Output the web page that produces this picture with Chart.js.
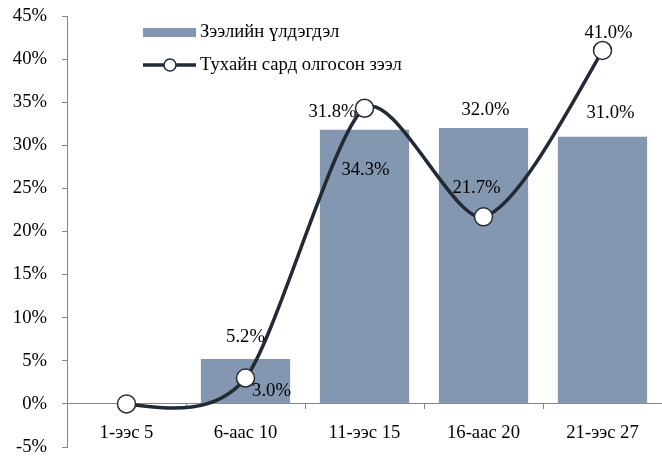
<!DOCTYPE html>
<html>
<head>
<meta charset="utf-8">
<script src="https://cdn.jsdelivr.net/npm/chart.js@4/dist/chart.umd.min.js"></script>
<style>
html,body{margin:0;padding:0;background:#fff;}
#wrap{width:662px;height:457px;position:relative;}
</style>
</head>
<body>
<div id="wrap"><canvas id="c" width="662" height="457"></canvas></div>
<script>
const categories = ["1-ээс 5", "6-аас 10", "11-ээс 15", "16-аас 20", "21-ээс 27"];
const balanceValues = [null, 5.2, 31.8, 32.0, 31.0];
const monthLoanValues = [0.0, 3.0, 34.3, 21.7, 41.0];
const seriesNames = ["Зээлийн үлдэгдэл", "Тухайн сард олгосон зээл"];
const yTicks = [-5, 0, 5, 10, 15, 20, 25, 30, 35, 40, 45];

const FONT = '"Liberation Serif", "Times New Roman", serif';
const FONT_SIZE = 18.67;
const BAR_COLOR = '#8497b0';
const LINE_COLOR = '#222a35';
const AXIS_COLOR = '#868686';

// label placement offsets (px) relative to each mark
const barLabelOffsets = [null, [0, -22], [-32, -18], [2, -18], [8, -24]];
const lineLabelOffsets = [null, [26, 13], [1, 62], [-7, -29], [6, -17]];

// Excel-like smoothing of the line: Bezier control points from neighbouring points
const smoothPlugin = {
  id: 'excelSmooth',
  beforeDatasetsDraw(chart) {
    const meta = chart.getDatasetMeta(0);
    const pts = meta.data;
    const n = pts.length;
    const k = 1 / 8;
    for (let i = 1; i < n - 1; i++) {
      const dx = pts[i + 1].x - pts[i - 1].x;
      const dy = pts[i + 1].y - pts[i - 1].y;
      pts[i].cp1x = pts[i].x - dx * k; pts[i].cp1y = pts[i].y - dy * k;
      pts[i].cp2x = pts[i].x + dx * k; pts[i].cp2y = pts[i].y + dy * k;
    }
    const a = pts[0], b = pts[1];
    a.cp2x = a.x + (b.cp1x - a.x) / 2; a.cp2y = a.y + (b.cp1y - a.y) / 2;
    a.cp1x = a.x; a.cp1y = a.y;
    const z = pts[n - 1], y = pts[n - 2];
    z.cp1x = z.x + (y.cp2x - z.x) / 2; z.cp1y = z.y + (y.cp2y - z.y) / 2;
    z.cp2x = z.x; z.cp2y = z.y;
    meta.dataset._pointsUpdated = true;
    delete meta.dataset._path;
  }
};

const labelsPlugin = {
  id: 'valueLabels',
  afterDatasetsDraw(chart) {
    const ctx = chart.ctx;
    ctx.save();
    ctx.font = FONT_SIZE + 'px ' + FONT;
    ctx.fillStyle = '#000';
    ctx.textAlign = 'center';
    ctx.textBaseline = 'middle';
    const barMeta = chart.getDatasetMeta(1);
    barMeta.data.forEach((el, i) => {
      const v = balanceValues[i];
      if (v === null || !barLabelOffsets[i]) return;
      ctx.fillText(v.toFixed(1) + '%', el.x + barLabelOffsets[i][0], el.y + barLabelOffsets[i][1]);
    });
    const lineMeta = chart.getDatasetMeta(0);
    lineMeta.data.forEach((el, i) => {
      const v = monthLoanValues[i];
      if (!lineLabelOffsets[i]) return;
      ctx.fillText(v.toFixed(1) + '%', el.x + lineLabelOffsets[i][0], el.y + lineLabelOffsets[i][1]);
    });
    ctx.restore();
  },
  afterDraw(chart) {
    const ctx = chart.ctx;
    ctx.save();
    ctx.fillStyle = BAR_COLOR;
    ctx.fillRect(143, 28, 53, 9);
    ctx.strokeStyle = LINE_COLOR;
    ctx.lineWidth = 3.5;
    ctx.beginPath();
    ctx.moveTo(143, 65);
    ctx.lineTo(196, 65);
    ctx.stroke();
    ctx.beginPath();
    ctx.arc(170, 65, 6, 0, Math.PI * 2);
    ctx.fillStyle = '#fff';
    ctx.fill();
    ctx.lineWidth = 1.5;
    ctx.stroke();
    ctx.font = FONT_SIZE + 'px ' + FONT;
    ctx.fillStyle = '#000';
    ctx.textAlign = 'left';
    ctx.textBaseline = 'middle';
    ctx.fillText(seriesNames[0], 200, 32);
    ctx.fillText(seriesNames[1], 200, 65);
    ctx.restore();
  }
};

new Chart(document.getElementById('c'), {
  data: {
    labels: categories,
    datasets: [
      {
        type: 'line',
        label: seriesNames[1],
        data: monthLoanValues,
        borderColor: LINE_COLOR,
        borderWidth: 3.5,
        tension: 0.4,
        pointRadius: 9,
        pointBackgroundColor: '#fff',
        pointBorderColor: LINE_COLOR,
        pointBorderWidth: 1.5,
        order: 0
      },
      {
        type: 'bar',
        label: seriesNames[0],
        data: balanceValues,
        backgroundColor: BAR_COLOR,
        categoryPercentage: 1.0,
        barPercentage: 0.75,
        order: 1
      }
    ]
  },
  options: {
    responsive: false,
    animation: false,
    layout: { autoPadding: false, padding: { top: 16, bottom: 10, right: -2, left: 0 } },
    plugins: { legend: { display: false }, tooltip: { enabled: false } },
    scales: {
      x: {
        type: 'category',
        position: { y: 0 },
        afterFit(scale) { scale.height = 0; scale.paddingLeft = 0; scale.paddingRight = 0; },
        grid: { drawOnChartArea: false, drawTicks: true, tickLength: 5, color: AXIS_COLOR, offset: true },
        border: { display: true, color: AXIS_COLOR, width: 1 },
        ticks: { color: '#000', font: { family: FONT, size: FONT_SIZE }, padding: 13, maxRotation: 0, autoSkip: false }
      },
      y: {
        min: -5,
        max: 45,
        afterBuildTicks(scale) { scale.ticks = yTicks.map(v => ({ value: v })); },
        afterFit(scale) { scale.width = 67; scale.paddingTop = 0; scale.paddingBottom = 0; },
        grid: { drawOnChartArea: false, drawTicks: true, tickLength: 5, color: AXIS_COLOR },
        border: { display: true, color: AXIS_COLOR, width: 1 },
        ticks: { color: '#000', font: { family: FONT, size: FONT_SIZE }, padding: 15, callback: v => v + '%' }
      }
    }
  },
  plugins: [smoothPlugin, labelsPlugin]
});
</script>
</body>
</html>
